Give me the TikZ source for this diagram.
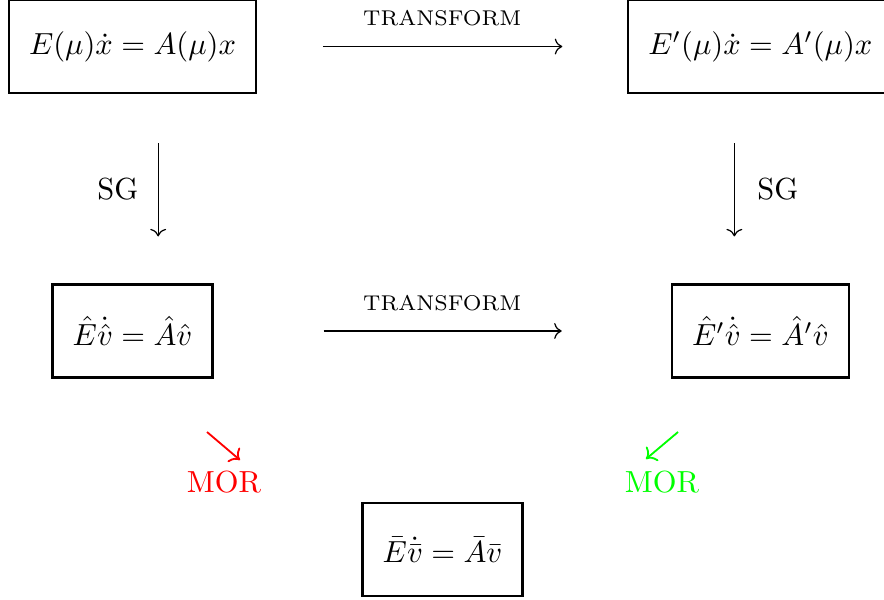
\documentclass[tikz,border=0pt]{standalone}
\usepackage{tikz}
\usetikzlibrary{arrows.meta,positioning}

\begin{document}
\begin{tikzpicture}
  \tikzset{eqbox/.style={draw,thick,inner xsep=6.6pt,minimum height=1.07cm},
           flow/.style={->},
           lbl/.style={font=\scriptsize}}
  \useasboundingbox (0,0) rectangle (10.184,-6.912);
  % full and reduced systems
  \node[eqbox] (full) at (1.527,-0.536) {$E(\mu)\dot{x} = A(\mu)x$};
  \node[eqbox] (fullT) at (8.76,-0.536) {$E'(\mu)\dot{x} = A'(\mu)x$};
  \node[eqbox] (sg) at (1.527,-3.813) {$\hat{E}\dot{\hat{v}} = \hat{A}\hat{v}$};
  \node[eqbox] (sgT) at (8.76,-3.813) {$\hat{E}'\dot{\hat{v}} = \hat{A}'\hat{v}$};
  \node[eqbox] (rom) at (5.098,-6.331) {$\bar{E}\dot{\bar{v}} = \bar{A}\bar{v}$};
  \draw[flow,shorten <=0.755cm,shorten >=0.745cm] (full) -- node[lbl,above=1.1mm] (t1) {TRANSFORM} (fullT);
  \draw[flow,shorten <=1.265cm,shorten >=1.255cm] (sg) -- node[lbl,above=1.1mm] (t2) {TRANSFORM} (sgT);
  \draw[flow,shorten <=0.565cm,shorten >=0.54cm] ([xshift=0.295cm]full.south) -- node[left=3pt] (s1) {SG} ([xshift=0.295cm]sg.north);
  \draw[flow,shorten <=0.565cm,shorten >=0.54cm] ([xshift=-0.30cm]fullT.south) -- node[right=4pt] (s2) {SG} ([xshift=-0.30cm]sgT.north);
  % model order reduction
  \node[red] (morL) at (2.581,-5.553) {MOR};
  \node[green] (morR) at (7.627,-5.553) {MOR};
  \coordinate (mL1) at (2.385,-4.977);
  \coordinate (mL2) at (2.765,-5.300);
  \coordinate (mR1) at (7.811,-4.977);
  \coordinate (mR2) at (7.442,-5.288);
  \draw[flow,red,semithick] (mL1) -- (mL2);
  \draw[flow,green,semithick] (mR1) -- (mR2);
\end{tikzpicture}
\end{document}
